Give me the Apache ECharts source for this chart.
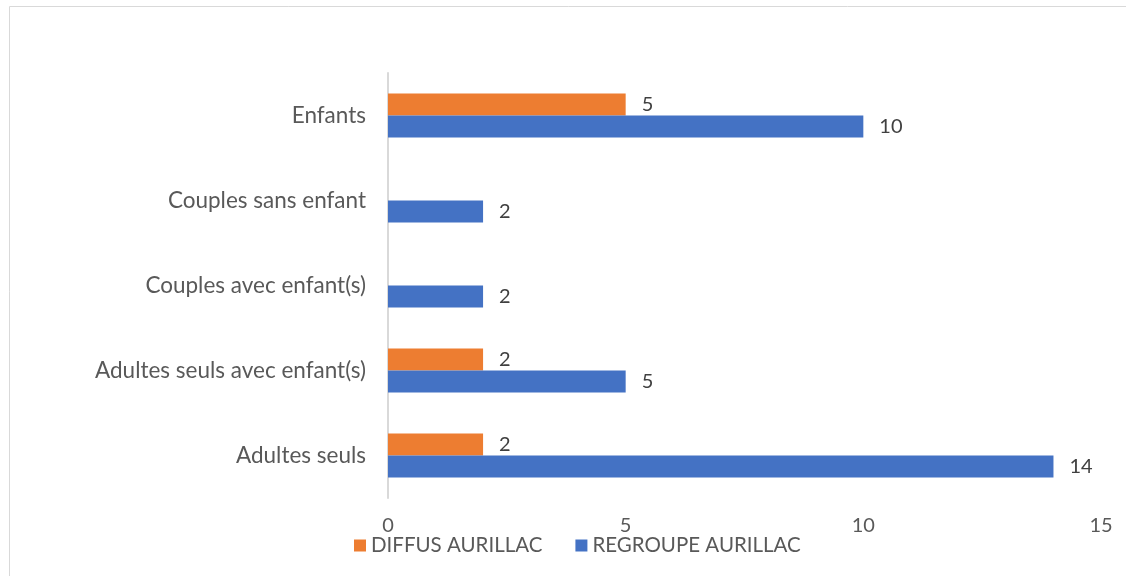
<!DOCTYPE html>
<html>
<head>
<meta charset="utf-8">
<script src="https://cdn.jsdelivr.net/npm/echarts@6/dist/echarts.min.js"></script>
<style>
  html, body { margin: 0; padding: 0; background: #fff; }
  #chart { width: 1126px; height: 576px; }
</style>
</head>
<body>
<div id="chart"></div>
<script>
// categories bottom -> top
const categories = ['Adultes seuls', 'Adultes seuls avec enfant(s)', 'Couples avec enfant(s)', 'Couples sans enfant', 'Enfants'];
const diffus = [2, 2, null, null, 5];
const regroupe = [14, 5, 2, 2, 10];
const xTicks = [0, 5, 10, 15];

const textColor = '#595959';
const font = 'Lato, "Open Sans", sans-serif';

let chart = echarts.init(document.getElementById('chart'));

const labelStyle = {
  show: true,
  position: 'right',
  distance: 16,
  color: '#404040',
  fontSize: 20,
  fontFamily: font
};

chart.setOption({
  animation: false,
  graphic: [
    {
      type: 'rect',
      left: 7, top: 4,
      shape: { width: 1140, height: 600 },
      style: { fill: 'none', stroke: '#d9d9d9', lineWidth: 1 },
      silent: true
    }
  ],
  grid: {
    left: 388,
    top: 73,
    width: 713,
    height: 425,
    containLabel: false
  },
  legend: {
    data: ['DIFFUS AURILLAC', 'REGROUPE AURILLAC'],
    left: 349,
    top: 530,
    icon: 'rect',
    itemWidth: 12,
    itemHeight: 12,
    itemGap: 33,
    textStyle: { color: textColor, fontSize: 20.5, fontFamily: font }
  },
  xAxis: {
    type: 'value',
    min: xTicks[0],
    max: xTicks[xTicks.length - 1],
    interval: 5,
    splitLine: { show: false },
    axisLine: { show: false },
    axisTick: { show: false },
    axisLabel: { color: textColor, fontSize: 20, fontFamily: font, margin: 18 }
  },
  yAxis: {
    type: 'category',
    data: categories,
    axisLine: { show: true, lineStyle: { color: '#d9d9d9', width: 2 } },
    axisTick: { show: false },
    axisLabel: { color: textColor, fontSize: 22.5, fontFamily: font, margin: 22 }
  },
  series: [
    {
      name: 'DIFFUS AURILLAC',
      type: 'bar',
      data: diffus,
      barWidth: 22,
      barGap: '0%',
      itemStyle: { color: '#ed7d31' },
      label: labelStyle
    },
    {
      name: 'REGROUPE AURILLAC',
      type: 'bar',
      data: regroupe,
      barWidth: 22,
      barGap: '0%',
      itemStyle: { color: '#4472c4' },
      label: labelStyle
    }
  ]
});
</script>
</body>
</html>
